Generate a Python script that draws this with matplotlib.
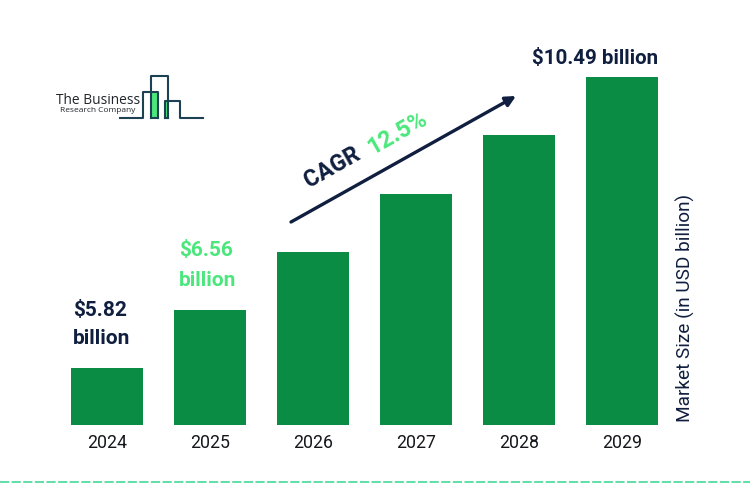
import matplotlib.pyplot as plt
from matplotlib.patches import Rectangle

plt.rcParams['font.family'] = ['Roboto', 'DejaVu Sans']

years = ['2024', '2025', '2026', '2027', '2028', '2029']
# bar heights as drawn in the picture (the bars are not to scale with the labels)
bar_heights = [57, 115, 173, 231, 290, 348]

NAVY = '#101f3f'
BAR_GREEN = '#0a8c45'
LIGHT_GREEN = '#4be77c'
LOGO_DARK = '#1c4152'

fig = plt.figure(figsize=(7.5, 4.92), dpi=100, facecolor='white')

# bars, category axis filling the figure
ax = fig.add_axes([0, 0, 1, 1])
ax.set_xlim(-107 / 103, 643 / 103)
ax.set_ylim(425 - 492, 425)
ax.bar(range(len(years)), bar_heights, width=72 / 103, color=BAR_GREEN)
for i, y in enumerate(years):
    ax.text(i, -18, y, ha='center', va='center', fontsize=12.8, color='#15171c')
ax.axis('off')

# overlay in pixel coordinates for the labels, arrow and logo
ov = fig.add_axes([0, 0, 1, 1])
ov.set_xlim(0, 750)
ov.set_ylim(492, 0)
ov.axis('off')
ov.patch.set_alpha(0)

ov.text(73, 310, '$5.82', fontsize=15, fontweight='bold', color=NAVY, va='center', parse_math=False)
ov.text(73, 339, 'billion', fontsize=15, fontweight='bold', color=NAVY, va='center')
ov.text(179, 251, '$6.56', fontsize=15, fontweight='bold', color=LIGHT_GREEN, va='center', parse_math=False)
ov.text(179, 280, 'billion', fontsize=15, fontweight='bold', color=LIGHT_GREEN, va='center')
ov.text(595, 58, '$10.49 billion', fontsize=14.8, fontweight='bold', color=NAVY,
        ha='center', va='center', parse_math=False)

ov.text(685, 308, 'Market Size (in USD billion)', fontsize=13.7, color=NAVY,
        rotation=90, ha='center', va='center')

# CAGR arrow
ov.annotate('', xy=(516, 96), xytext=(291, 222),
            arrowprops=dict(arrowstyle='-|>', color=NAVY, lw=2.4, mutation_scale=15,
                            shrinkA=0, shrinkB=0))
ov.text(332, 167, 'CAGR', fontsize=16.5, fontweight='bold', color=NAVY,
        rotation=29.5, ha='center', va='center', rotation_mode='anchor')
ov.text(397, 133, '12.5%', fontsize=17, fontweight='bold', color=LIGHT_GREEN,
        rotation=29.5, ha='center', va='center', rotation_mode='anchor')

# logo
ov.add_patch(Rectangle((152, 92), 6, 26, color=LIGHT_GREEN, lw=0))
ov.add_patch(Rectangle((165, 101), 3.5, 17, color=LIGHT_GREEN, lw=0))
ov.plot([120, 143, 143, 158, 158], [118, 118, 92, 92, 118], color=LOGO_DARK, lw=1.5)
ov.plot([151, 151, 168, 168], [118, 76, 76, 118], color=LOGO_DARK, lw=1.5)
ov.plot([165, 165, 180, 180, 203], [118, 101, 101, 118, 118], color=LOGO_DARK, lw=1.5)
ov.plot([151, 158], [118, 118], color=LOGO_DARK, lw=1.5)
ov.plot([165, 168], [118, 118], color=LOGO_DARK, lw=1.5)
ov.text(56, 100.5, 'The Business', fontsize=9.9, color='#20262b', va='center', family='Open Sans')
ov.text(60, 111, 'Research Company', fontsize=6, color='#20262b', va='center', family='Open Sans')

# dashed footer line
ov.plot([0, 750], [482, 482], color='#35d68f', lw=1.1, dashes=(6, 1.6))

fig.savefig('out.png', dpi=100)
